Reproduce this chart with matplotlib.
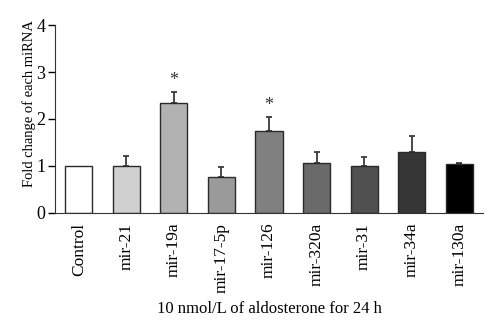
import matplotlib
matplotlib.use("Agg")
import matplotlib.pyplot as plt

categories = ["Control", "mir-21", "mir-19a", "mir-17-5p", "mir-126",
              "mir-320a", "mir-31", "mir-34a", "mir-130a"]
values = [1.0, 1.0, 2.33, 0.76, 1.74, 1.06, 0.99, 1.30, 1.05]
errors = [0.0, 0.22, 0.25, 0.225, 0.30, 0.24, 0.20, 0.33, 0.02]
colors = ["#ffffff", "#d0d0d0", "#b2b2b2", "#9a9a9a", "#808080",
          "#6a6a6a", "#505050", "#363636", "#000000"]
significant = [False, False, True, False, True, False, False, False, False]
yticks = [0, 1, 2, 3, 4]

plt.rcParams['font.family'] = ['Liberation Serif', 'DejaVu Serif']

fig = plt.figure(figsize=(5, 3.29), dpi=100)
ax = fig.add_axes([0.11, 0.3526, 0.856, 0.5714])

x = list(range(len(categories)))
ax.bar(x, values, width=0.57, color=colors, edgecolor="#2a2a2a", linewidth=1.0, zorder=2)
ex = [xi for xi, e in zip(x, errors) if e > 0]
ev = [v for v, e in zip(values, errors) if e > 0]
ee = [e for e in errors if e > 0]
ax.errorbar(ex, ev, yerr=[[0] * len(ee), ee], fmt="none", ecolor="#3a3a3a",
            elinewidth=1.3, capsize=2.5, capthick=1.3, zorder=1)
for xi, v, e, s in zip(x, values, errors, significant):
    if s:
        ax.text(xi, v + e + 0.06, "*", ha="center", va="bottom", fontsize=13, color="#333333")

ax.set_xlim(-0.5, 8.5)
ax.set_ylim(0, 4)
ax.set_yticks(yticks)
ax.set_xticks(x)
ax.set_xticklabels(categories, rotation=90, fontsize=12.5)
ax.tick_params(axis="x", length=0, pad=7)
ax.tick_params(axis="y", direction="out", length=5, labelsize=13, width=1, pad=2)
ax.spines["top"].set_visible(False)
ax.spines["right"].set_visible(False)
ax.spines["left"].set_color("#333333")
ax.spines["bottom"].set_color("#333333")
ax.set_ylabel("Fold change of each miRNA", fontsize=10.5)
ax.yaxis.set_label_coords(-0.045, 0.58)
ax.set_xlabel("10 nmol/L of aldosterone for 24 h", fontsize=12, labelpad=6)

fig.savefig("out.png", dpi=100)
